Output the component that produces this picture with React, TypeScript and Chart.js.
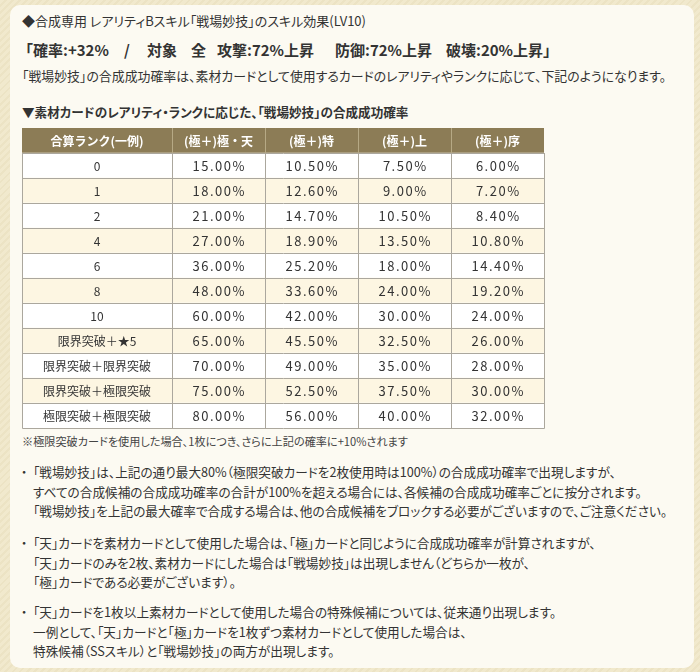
import React, { useEffect, useRef } from 'react';
import { Chart, registerables } from 'chart.js';

Chart.register(...registerables);

const FONT = '"Noto Sans CJK JP", "Noto Sans CJK SC", sans-serif';

// ---------- data ----------
const titleText = '◆合成専用 レアリティBスキル「戦場妙技」のスキル効果(LV10)';
const effectParts = ['「確率:+32%', '/', '対象', '全', '攻撃:72%上昇', '防御:72%上昇', '破壊:20%上昇」'];
const introText = '「戦場妙技」の合成成功確率は、素材カードとして使用するカードのレアリティやランクに応じて、下記のようになります。';
const tableTitle = '▼素材カードのレアリティ・ランクに応じた、「戦場妙技」の合成成功確率';
const noteText = '※極限突破カードを使用した場合、1枚につき、さらに上記の確率に+10%されます';

const columnHeaders = ['合算ランク(一例)', '(極＋)極・天', '(極＋)特', '(極＋)上', '(極＋)序'];
const rankLabels = ['0', '1', '2', '4', '6', '8', '10', '限界突破＋★5', '限界突破＋限界突破', '限界突破＋極限突破', '極限突破＋極限突破'];
const rateKiwameTen = [15, 18, 21, 27, 36, 48, 60, 65, 70, 75, 80];
const rateToku = [10.5, 12.6, 14.7, 18.9, 25.2, 33.6, 42, 45.5, 49, 52.5, 56];
const rateJou = [7.5, 9, 10.5, 13.5, 18, 24, 30, 32.5, 35, 37.5, 40];
const rateJo = [6, 7.2, 8.4, 10.8, 14.4, 19.2, 24, 26, 28, 30, 32];

const bullet1 = [
  '「戦場妙技」は、上記の通り最大80%（極限突破カードを2枚使用時は100%）の合成成功確率で出現しますが、',
  'すべての合成候補の合成成功確率の合計が100%を超える場合には、各候補の合成成功確率ごとに按分されます。',
  '「戦場妙技」を上記の最大確率で合成する場合は、他の合成候補をブロックする必要がございますので、ご注意ください。',
];
const bullet2 = [
  '「天」カードを素材カードとして使用した場合は、「極」カードと同じように合成成功確率が計算されますが、',
  '「天」カードのみを2枚、素材カードにした場合は「戦場妙技」は出現しません（どちらか一枚が、',
  '「極」カードである必要がございます）。',
];
const bullet3 = [
  '「天」カードを1枚以上素材カードとして使用した場合の特殊候補については、従来通り出現します。',
  '一例として、「天」カードと「極」カードを1枚ずつ素材カードとして使用した場合は、',
  '特殊候補（SSスキル）と「戦場妙技」の両方が出現します。',
];

// ---------- layout / style ----------
const columnWidths = [150, 93, 93, 93, 93];
const effectX = [18, 124, 147, 191, 217, 335, 446];
const bulletTops = [472, 543, 612];
const LINE_GAP = 19.5;

const HEADER_BG = '#8c7c56';
const ROW_WHITE = '#ffffff';
const ROW_CREAM = '#fdf6e2';
const GRID = '#aba79d';
const HEADER_GRID = '#b6a985';
const TEXT = '#333333';

function Txt(props: { x: number; y: number; size: number; bold?: boolean; color?: string; ls?: number; mono?: boolean; children: any }) {
  const { x, y, size, bold, color, ls, mono, children } = props;
  return (
    <div
      style={{
        position: 'absolute',
        left: x,
        top: y - size,
        height: size * 2,
        lineHeight: `${size * 2}px`,
        fontSize: size,
        fontWeight: bold ? 700 : 400,
        whiteSpace: 'pre',
        color: color || TEXT,
        letterSpacing: ls !== undefined ? ls : 0,
        fontFamily: FONT,
        fontFeatureSettings: mono ? 'normal' : '"palt"',
      }}
    >
      {children}
    </div>
  );
}

function RateTable() {
  const ref = useRef<HTMLCanvasElement | null>(null);
  useEffect(() => {
    const canvas = ref.current;
    if (!canvas) return;
    const rowLabels = [columnHeaders[0], ...rankLabels];
    const valueColumns = [rateKiwameTen, rateToku, rateJou, rateJo];
    const totalW = columnWidths.reduce((a, b) => a + b, 0);
    const edges: number[] = [0];
    columnWidths.forEach((w) => edges.push(edges[edges.length - 1] + w));

    const tablePlugin = {
      id: 'tablePlugin',
      afterDatasetsDraw(chart: any) {
        const ctx = chart.ctx as CanvasRenderingContext2D;
        const xS = chart.scales.x;
        const yS = chart.scales.y;
        const c0 = yS.getPixelForValue(0);
        const rh = yS.getPixelForValue(1) - c0;
        const top = c0 - rh / 2;
        const n = rowLabels.length;
        const bottom = top + n * rh;
        const xs = edges.map((e) => Math.round(xS.getPixelForValue(e)));
        ctx.save();
        ctx.lineWidth = 1;
        for (let j = 1; j < xs.length - 1; j++) {
          const x = xs[j] + 0.5;
          ctx.strokeStyle = HEADER_GRID;
          ctx.beginPath();
          ctx.moveTo(x, Math.round(top));
          ctx.lineTo(x, Math.round(top + rh));
          ctx.stroke();
          ctx.strokeStyle = GRID;
          ctx.beginPath();
          ctx.moveTo(x, Math.round(top + rh));
          ctx.lineTo(x, Math.round(bottom));
          ctx.stroke();
        }
        ctx.strokeStyle = GRID;
        for (let i = 1; i < n; i++) {
          const y = Math.round(top + i * rh) + 0.5;
          ctx.beginPath();
          ctx.moveTo(xs[0], y);
          ctx.lineTo(xs[xs.length - 1] + 1, y);
          ctx.stroke();
        }
        ctx.beginPath();
        ctx.moveTo(xs[0] + 0.5, Math.round(top + rh));
        ctx.lineTo(xs[0] + 0.5, Math.round(bottom) + 0.5);
        ctx.lineTo(xs[xs.length - 1] + 0.5, Math.round(bottom) + 0.5);
        ctx.lineTo(xs[xs.length - 1] + 0.5, Math.round(top + rh));
        ctx.stroke();

        ctx.textAlign = 'center';
        ctx.textBaseline = 'middle';
        ctx.fillStyle = '#ffffff';
        ctx.font = `bold 12px ${FONT}`;
        for (let j = 0; j < columnHeaders.length; j++) {
          const cx = (xS.getPixelForValue(edges[j]) + xS.getPixelForValue(edges[j + 1])) / 2;
          ctx.fillText(columnHeaders[j], cx, yS.getPixelForValue(0) + 0.5);
        }
        ctx.fillStyle = TEXT;
        for (let i = 0; i < rankLabels.length; i++) {
          const cy = yS.getPixelForValue(i + 1) + 0.5;
          ctx.font = `12px ${FONT}`;
          (ctx as any).letterSpacing = '0px';
          const c0x = (xS.getPixelForValue(edges[0]) + xS.getPixelForValue(edges[1])) / 2;
          ctx.fillText(rankLabels[i], c0x, cy);
          ctx.font = `13px ${FONT}`;
          (ctx as any).letterSpacing = '1.5px';
          for (let j = 0; j < valueColumns.length; j++) {
            const cx = (xS.getPixelForValue(edges[j + 1]) + xS.getPixelForValue(edges[j + 2])) / 2 + 0.75;
            ctx.fillText(valueColumns[j][i].toFixed(2) + '%', cx, cy);
          }
        }
        ctx.restore();
      },
    };

    const chart = new Chart(canvas, {
      type: 'bar',
      data: {
        labels: rowLabels,
        datasets: [
          {
            label: 'rows',
            data: rowLabels.map(() => [0, totalW]) as any,
            backgroundColor: rowLabels.map((_, i) => (i === 0 ? HEADER_BG : i % 2 === 1 ? ROW_WHITE : ROW_CREAM)),
            barPercentage: 1,
            categoryPercentage: 1,
            borderWidth: 0,
          },
        ],
      },
      options: {
        indexAxis: 'y',
        responsive: false,
        animation: false,
        events: [],
        layout: { padding: { left: 0, top: 0, right: 1, bottom: 1 } },
        scales: {
          x: { type: 'linear', min: 0, max: totalW, display: false },
          y: { type: 'category', display: false },
        },
        plugins: { legend: { display: false }, tooltip: { enabled: false } },
      },
      plugins: [tablePlugin],
    });
    return () => chart.destroy();
  }, []);
  return (
    <canvas
      ref={ref}
      width={523}
      height={301}
      style={{ position: 'absolute', left: 22, top: 128, width: 523, height: 301 }}
    />
  );
}

export default function App() {
  const bullets = [bullet1, bullet2, bullet3];
  return (
    <div
      style={{
        position: 'absolute',
        left: 0,
        top: 0,
        width: 700,
        height: 672,
        overflow: 'hidden',
        background: 'repeating-linear-gradient(135deg, #f1e9cd 0px, #f1e9cd 3px, #ece3c4 3px, #ece3c4 5px)',
        fontFamily: FONT,
      }}
    >
      <div
        style={{
          position: 'absolute',
          left: 10,
          top: 5,
          width: 684,
          height: 663,
          borderRadius: 10,
          background: '#fcfaf2',
        }}
      />
      <Txt x={22} y={21} size={13}>{titleText}</Txt>
      {effectParts.map((p, i) => (
        <Txt key={i} x={effectX[i]} y={50} size={15} bold mono>
          {p}
        </Txt>
      ))}
      <Txt x={22} y={76} size={12.9}>{introText}</Txt>
      <Txt x={22} y={112} size={12.6} bold>{tableTitle}</Txt>
      <RateTable />
      <Txt x={22} y={441} size={11.15} color="#444">{noteText}</Txt>
      {bullets.map((lines, b) => (
        <React.Fragment key={b}>
          <Txt x={21} y={bulletTops[b]} size={12.65}>・</Txt>
          {lines.map((l, k) => (
            <Txt key={k} x={33} y={bulletTops[b] + k * LINE_GAP} size={12.65}>
              {l}
            </Txt>
          ))}
        </React.Fragment>
      ))}
    </div>
  );
}
